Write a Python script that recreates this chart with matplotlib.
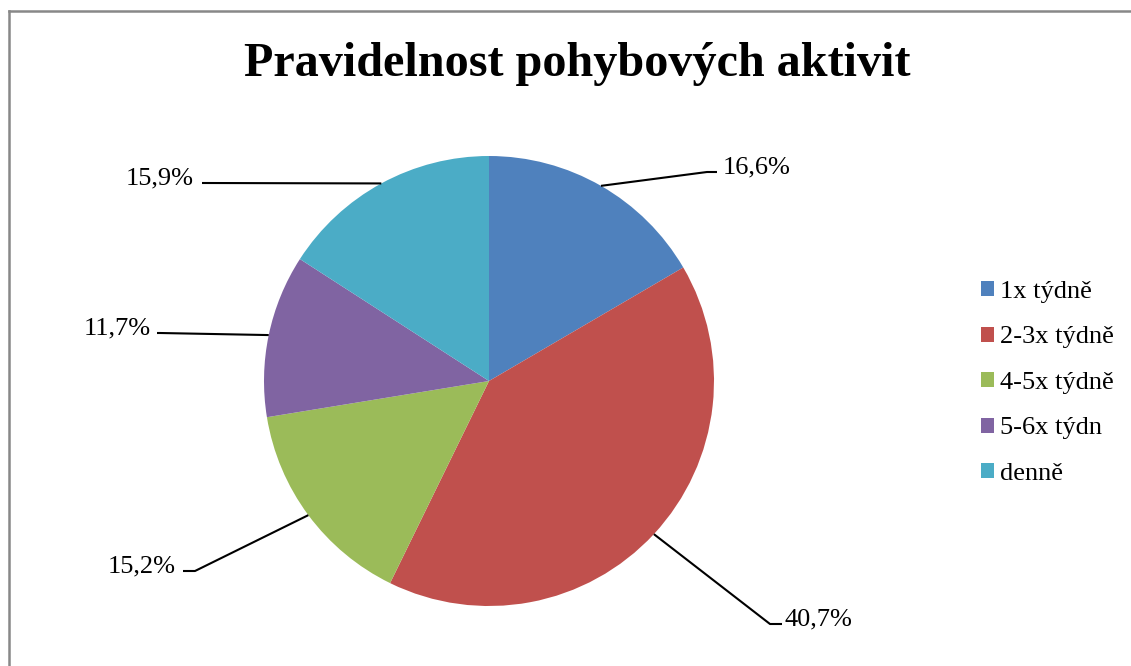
import numpy as np
import matplotlib.pyplot as plt
from matplotlib.lines import Line2D

plt.rcParams['font.family'] = ['Liberation Serif', 'DejaVu Serif']

W, H = 1131, 666
CX, CY, R = 489, 381, 225   # pie centre and radius in pixels

categories = ['1x týdně', '2-3x týdně', '4-5x týdně', '5-6x týdn', 'denně']
shares = [16.6, 40.7, 15.2, 11.7, 15.9]
value_labels = ['16,6%', '40,7%', '15,2%', '11,7%', '15,9%']
colors = ['#4F81BD', '#C0504D', '#9BBB59', '#8064A2', '#4BACC6']

# leader line elbow, line end and text anchor (baseline) for each slice, in pixels
elbows = [(707, 172), (770, 624), (195, 571), (160, 333), (204, 183)]
line_ends = [(717, 172), (782, 624), (183, 571), (157, 333), (202, 183)]
text_pos = [(723, 173), (785, 625), (176, 572), (151, 334), (194, 184)]


def px(x, y):
    # pixel position -> data units where the pie radius is 1
    return (x - CX) / R, (CY - y) / R


fig = plt.figure(figsize=(W / 100, H / 100), dpi=100)
ax = fig.add_axes([0, 0, 1, 1])

wedges, _ = ax.pie(shares, colors=colors, startangle=90, counterclock=False,
                   radius=1, center=(0, 0), labels=categories, labeldistance=None,
                   wedgeprops=dict(linewidth=0))

ax.set_xlim(-CX / R, (W - CX) / R)
ax.set_ylim((CY - H) / R, CY / R)
ax.set_aspect('auto')
ax.axis('off')

for w, lab, el, end, tp in zip(wedges, value_labels, elbows, line_ends, text_pos):
    mid = np.deg2rad((w.theta1 + w.theta2) / 2)
    x0, y0 = np.cos(mid), np.sin(mid)
    ex, ey = px(*el)
    lx, ly = px(*end)
    ax.plot([x0, ex, lx], [y0, ey, ly], color='black', lw=1.5,
            solid_capstyle='butt', zorder=3)
    tx, ty = px(*tp)
    ha = 'left' if tp[0] > CX else 'right'
    ax.text(tx, ty, lab, ha=ha, va='baseline', fontsize=19)

ax.text(*px(577, 76), 'Pravidelnost pohybových aktivit', ha='center', va='baseline',
        fontsize=34.7, fontweight='bold')

ax.legend(wedges, categories, loc='upper left', frameon=False,
          bbox_to_anchor=(981 / W, 1 - 281 / H), bbox_transform=fig.transFigure,
          fontsize=19, handlelength=0.5, handleheight=0.5, handletextpad=0.22,
          labelspacing=0.89, borderpad=0, borderaxespad=0)

# grey chart border on the left and top
fig.add_artist(Line2D([9 / W, 9 / W], [0, 1 - 11 / H], color='#888888', lw=1.8,
                      transform=fig.transFigure))
fig.add_artist(Line2D([9 / W, 1], [1 - 11 / H, 1 - 11 / H], color='#888888', lw=1.8,
                      transform=fig.transFigure))

fig.savefig('out.png', dpi=100)
